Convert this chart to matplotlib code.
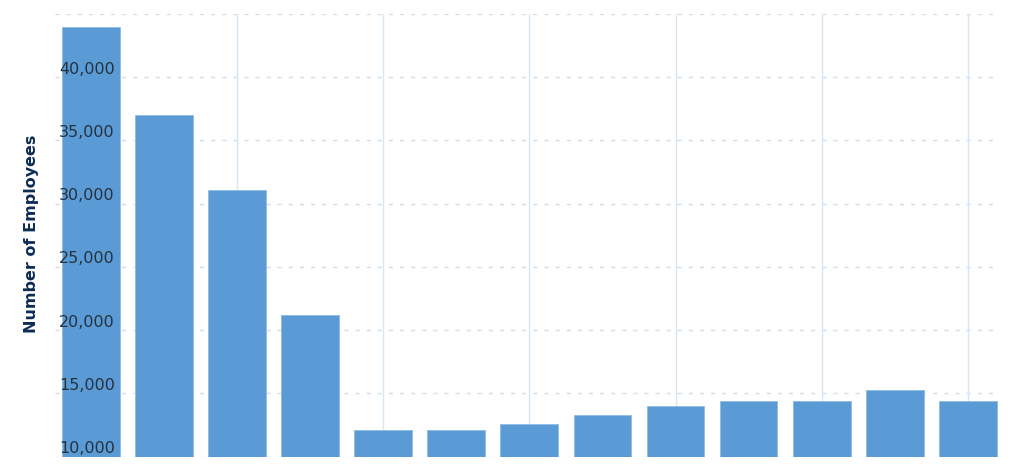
import numpy as np
from matplotlib import pyplot as plt
from matplotlib import transforms

# Employee counts (x axis labels are cropped in the source)
years = list(range(2010, 2023))
employees = [44000, 37000, 31100, 21200, 12100, 12100, 12550,
             13300, 14000, 14400, 14400, 15300, 14400]

ytick_values = [10000, 15000, 20000, 25000, 30000, 35000, 40000]
ygrid_values = ytick_values + [45000]

bar_color = "#5b9bd5"
label_color = "#24313f"
title_color = "#0d2c54"


def main():
	fig = plt.figure(figsize=(10.24, 4.75), dpi=100)
	ax = fig.add_axes([0.0537, 0.0385, 0.9229, 0.932])

	x = np.arange(len(years))
	ax.bar(x, employees, width=0.79, color=bar_color, zorder=3,
	       edgecolor="#8fbbe3", linewidth=0.6)

	ax.set_xlim(-0.49, len(years) - 0.56)
	ax.set_ylim(10000, 45000)

	# dashed horizontal grid, solid vertical grid every second bar
	for v in ygrid_values:
		ax.axhline(v, color="#d3dde8", linestyle=(0, (3, 5)), linewidth=1.0, zorder=1)
	for i in x[2::2]:
		ax.axvline(i, color="#d8e6f2", linewidth=1.0, zorder=1)

	ax.set_xticks([])
	ax.set_yticks([])
	for s in ax.spines.values():
		s.set_visible(False)

	# tick labels sit inside the plot, just above their gridline
	trans = transforms.blended_transform_factory(fig.transFigure, ax.transData)
	offset = transforms.offset_copy(trans, fig=fig, x=0, y=0.5, units="points")
	for v in ytick_values:
		ax.text(59 / 1024, v, f"{v:,}", transform=offset, ha="left", va="bottom",
		        fontsize=11.5, color=label_color, zorder=4)

	fig.text(32 / 1024, 1 - 234 / 475, "Number of Employees", rotation=90,
	         ha="center", va="center", fontsize=11.5, fontweight="bold",
	         color=title_color)

	fig.savefig("out.png", dpi=100)


if __name__ == "__main__":
	main()
